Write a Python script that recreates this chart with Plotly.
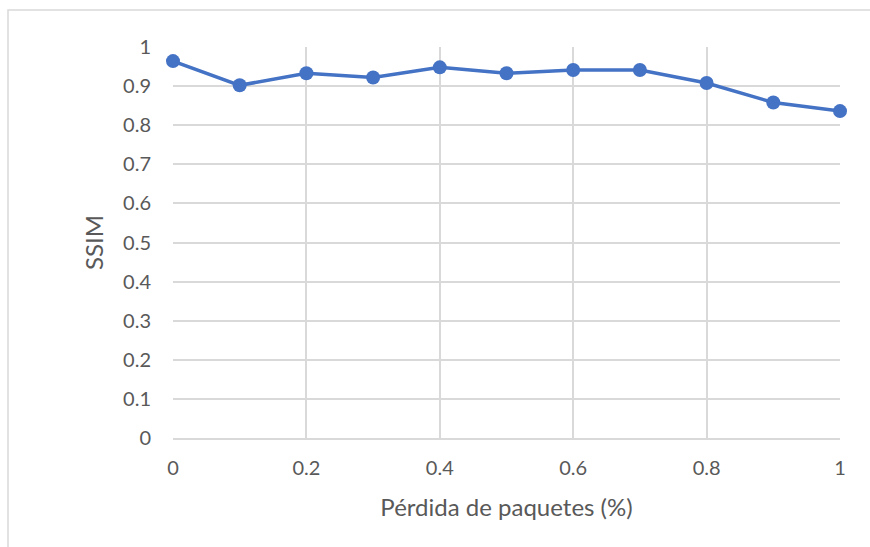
import plotly.graph_objects as go

# Packet loss (%) vs. SSIM
perdida = [0, 0.1, 0.2, 0.3, 0.4, 0.5, 0.6, 0.7, 0.8, 0.9, 1.0]
ssim = [0.964, 0.902, 0.933, 0.922, 0.948, 0.933, 0.941, 0.941, 0.908, 0.858, 0.836]

x_ticks = [0, 0.2, 0.4, 0.6, 0.8, 1]
x_tick_text = ["0", "0.2", "0.4", "0.6", "0.8", "1"]
y_ticks = [0, 0.1, 0.2, 0.3, 0.4, 0.5, 0.6, 0.7, 0.8, 0.9, 1]
y_tick_text = ["0", "0.1", "0.2", "0.3", "0.4", "0.5", "0.6", "0.7", "0.8", "0.9", "1"]

W, H = 870, 547
L, R, T, B = 173, 30, 47, 109
pw, ph = W - L - R, H - T - B

text_color = "#595959"
grid_color = "#d9d9d9"
font_family = "Lato, Carlito, Calibri, sans-serif"

fig = go.Figure()
fig.add_trace(go.Scatter(
    x=perdida, y=ssim,
    mode="lines+markers",
    line=dict(color="#4472C4", width=3.5),
    marker=dict(color="#4472C4", size=14),
    cliponaxis=False,
    showlegend=False,
))

fig.update_layout(
    width=W, height=H,
    margin=dict(l=L, r=R, t=T, b=B, autoexpand=False),
    paper_bgcolor="white",
    plot_bgcolor="white",
    font=dict(family=font_family, color=text_color, size=20),
    xaxis=dict(
        range=[0, 1],
        tickmode="array", tickvals=x_ticks, ticktext=x_tick_text,
        showgrid=True, gridcolor=grid_color, gridwidth=1.5,
        showline=True, linecolor=grid_color, linewidth=1.5,
        zeroline=False, ticks="", ticklabelstandoff=11,
        tickfont=dict(size=20, color=text_color),
        title=dict(text="Pérdida de paquetes (%)", font=dict(size=24, color=text_color), standoff=21),
        automargin=False,
    ),
    yaxis=dict(
        range=[0, 1],
        tickmode="array", tickvals=y_ticks, ticktext=y_tick_text,
        showgrid=True, gridcolor=grid_color, gridwidth=1.5,
        showline=False, zeroline=False, ticks="", ticklabelstandoff=21,
        tickfont=dict(size=20, color=text_color),
        title=dict(text="SSIM", font=dict(size=24, color=text_color), standoff=12),
        automargin=False,
    ),
    shapes=[dict(
        type="rect", xref="paper", yref="paper",
        x0=(8 - L) / pw, x1=(W + 20 - L) / pw,
        y0=-(H + 20 - (T + ph)) / ph, y1=(T + ph - 10) / ph,
        line=dict(color="#d9d9d9", width=1.5),
        fillcolor="rgba(0,0,0,0)", layer="below",
    )],
)

fig.write_html("out.html")
